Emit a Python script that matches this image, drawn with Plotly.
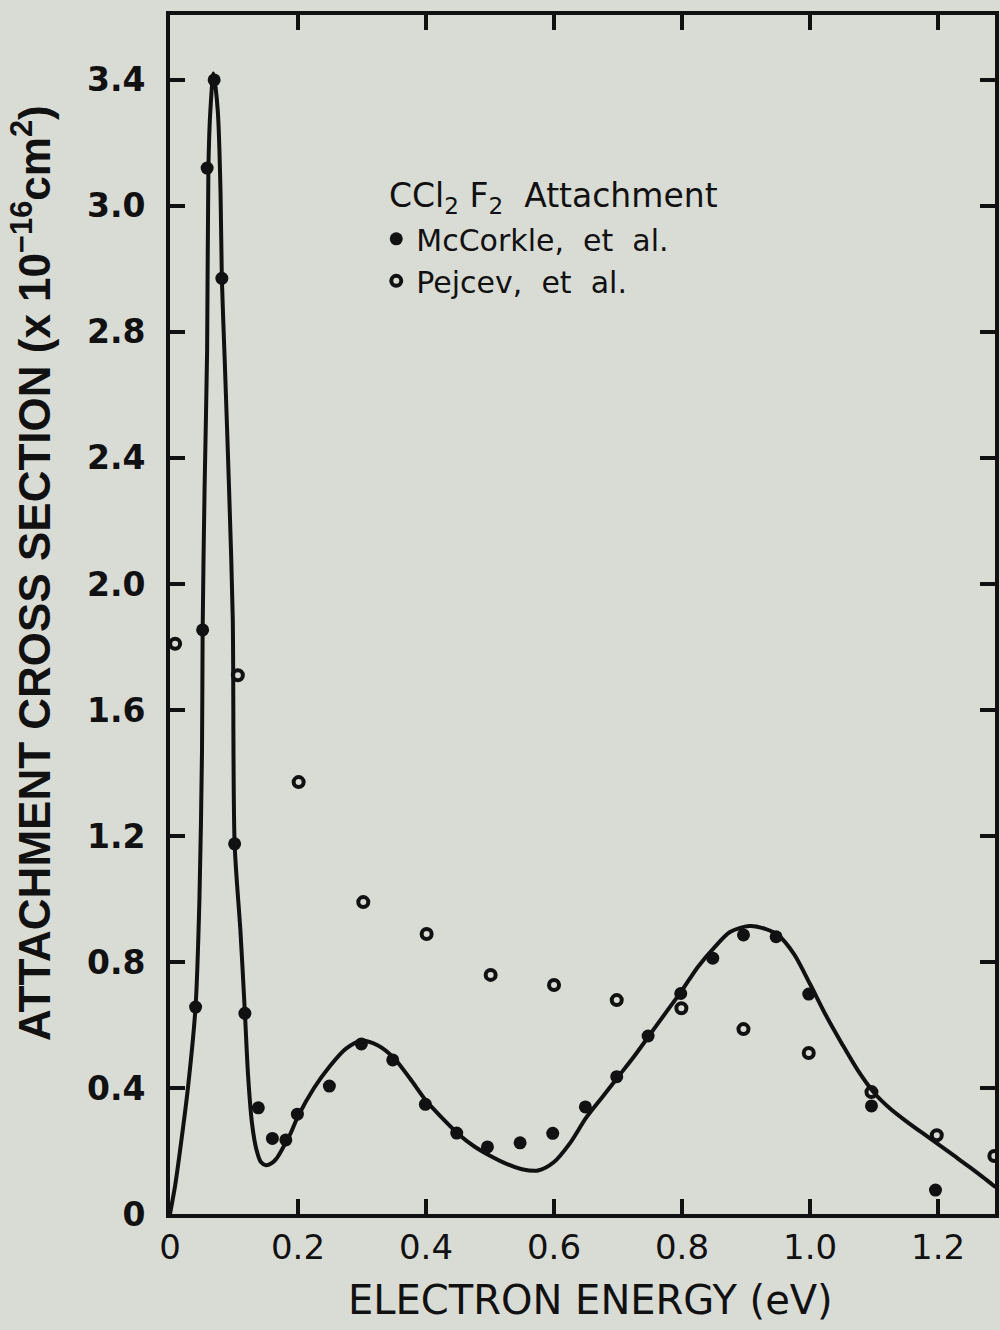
import plotly.graph_objects as go

# Fitted attachment cross-section curve (electron energy in eV, cross section)
curve_energy = [0.000, 0.008, 0.0156, 0.028, 0.040, 0.046, 0.050, 0.051, 0.054, 0.058,
                0.060, 0.063, 0.068, 0.0747, 0.079, 0.081, 0.0855, 0.092, 0.098, 0.101,
                0.110, 0.117, 0.122, 0.128, 0.135, 0.142, 0.150, 0.158, 0.166, 0.175,
                0.187, 0.200, 0.225, 0.250, 0.275, 0.300, 0.325, 0.350, 0.375, 0.400,
                0.425, 0.450, 0.475, 0.500, 0.525, 0.550, 0.575, 0.600, 0.625, 0.650,
                0.675, 0.700, 0.725, 0.750, 0.775, 0.800, 0.825, 0.850, 0.875, 0.905,
                0.930, 0.950, 0.975, 1.000, 1.025, 1.050, 1.075, 1.100, 1.125, 1.150,
                1.175, 1.200, 1.225, 1.250, 1.270, 1.290]
curve_sigma = [0.00, 0.09, 0.20, 0.40, 0.66, 1.00, 1.47, 1.85, 2.30, 2.74,
               3.32, 3.50, 3.62, 3.50, 3.24, 2.97, 2.71, 2.32, 1.895, 1.175,
               0.90, 0.64, 0.44, 0.29, 0.205, 0.165, 0.155, 0.160, 0.175, 0.205,
               0.25, 0.31, 0.40, 0.47, 0.525, 0.550, 0.535, 0.495, 0.43, 0.36,
               0.305, 0.255, 0.215, 0.185, 0.160, 0.142, 0.138, 0.165, 0.225, 0.305,
               0.370, 0.435, 0.500, 0.570, 0.640, 0.710, 0.785, 0.845, 0.895, 0.914,
               0.905, 0.885, 0.825, 0.730, 0.630, 0.540, 0.455, 0.385, 0.335, 0.295,
               0.258, 0.222, 0.185, 0.148, 0.117, 0.085]

# McCorkle et al. (filled points)
mccorkle_energy = [0.040, 0.051, 0.058, 0.069, 0.081, 0.101, 0.117, 0.138, 0.160, 0.181,
                   0.199, 0.249, 0.299, 0.348, 0.399, 0.448, 0.496, 0.547, 0.598, 0.649,
                   0.698, 0.747, 0.798, 0.848, 0.896, 0.947, 0.998, 1.096, 1.196]
mccorkle_sigma = [0.657, 1.854, 3.32, 3.60, 2.97, 1.175, 0.637, 0.337, 0.240, 0.235,
                  0.317, 0.406, 0.540, 0.489, 0.348, 0.257, 0.213, 0.226, 0.256, 0.340,
                  0.436, 0.565, 0.700, 0.812, 0.886, 0.880, 0.698, 0.343, 0.076]

# Pejcev et al. (open points)
pejcev_energy = [0.008, 0.106, 0.201, 0.302, 0.401, 0.501, 0.600, 0.698, 0.799, 0.896,
                 0.998, 1.096, 1.198, 1.288]
pejcev_sigma = [1.81, 1.71, 1.371, 0.990, 0.889, 0.759, 0.727, 0.679, 0.653, 0.587,
                0.511, 0.387, 0.250, 0.184]

x_tick_vals = [0, 0.2, 0.4, 0.6, 0.8, 1.0, 1.2]
x_tick_text = ["0", "0.2", "0.4", "0.6", "0.8", "1.0", "1.2"]
y_tick_vals = [0, 0.4, 0.8, 1.2, 1.6, 2.0, 2.4, 2.8, 3.2, 3.6]
y_tick_text = ["0", "0.4", "0.8", "1.2", "1.6", "2.0", "2.4", "2.8", "3.0", "3.4"]

BG = "#d9dbd5"
INK = "#111111"

fig = go.Figure()

fig.add_trace(go.Scatter(
    x=curve_energy, y=curve_sigma, mode="lines",
    line=dict(color=INK, width=4, shape="spline", smoothing=0.8),
    showlegend=False, hoverinfo="skip",
))

fig.add_trace(go.Scatter(
    x=mccorkle_energy, y=mccorkle_sigma, mode="markers",
    name="McCorkle,  et  al.",
    marker=dict(symbol="circle", size=13, color=INK),
))

fig.add_trace(go.Scatter(
    x=pejcev_energy, y=pejcev_sigma, mode="markers",
    name="Pejcev,  et  al.",
    marker=dict(symbol="circle-open", size=10, color=INK, line=dict(width=4, color=INK)),
))

axis_common = dict(
    showline=True, linecolor=INK, linewidth=4, mirror="ticks",
    ticks="inside", ticklen=15, tickwidth=4, tickcolor=INK,
    showgrid=False, zeroline=False,
)

fig.update_xaxes(
    range=[0, 1.289], tickvals=x_tick_vals, ticktext=x_tick_text,
    tickfont=dict(family="DejaVu Sans", size=34, color=INK),
    ticklabelstandoff=0,
    **axis_common,
)
fig.update_yaxes(
    range=[0, 3.806], tickvals=y_tick_vals, ticktext=y_tick_text,
    tickfont=dict(family="DejaVu Sans", size=33, color=INK, weight="bold"),
    ticklabelstandoff=14,
    **axis_common,
)

fig.update_layout(
    width=1000, height=1330,
    margin=dict(l=170, r=1, t=15, b=116),
    paper_bgcolor=BG, plot_bgcolor=BG,
    font=dict(family="DejaVu Sans", color=INK),
    legend=dict(
        x=0.250, y=0.835, xanchor="left", yanchor="top",
        bgcolor="rgba(0,0,0,0)", borderwidth=0,
        font=dict(family="DejaVu Sans", size=30, color=INK),
        itemwidth=30, tracegroupgap=0,
    ),
    annotations=[
        dict(
            text="CCl<sub>2</sub> F<sub>2</sub>  Attachment",
            xref="paper", yref="paper", x=0.263, y=0.848,
            xanchor="left", yanchor="middle", showarrow=False,
            font=dict(family="DejaVu Sans", size=33, color=INK),
        ),
        dict(
            text="ATTACHMENT CROSS SECTION (x 10<sup>−16</sup>cm<sup>2</sup>)",
            xref="paper", yref="paper", x=-0.168, y=0.535,
            xanchor="center", yanchor="middle", textangle=-90, showarrow=False,
            font=dict(family="Liberation Sans", size=44, color=INK, weight="bold"),
        ),
        dict(
            text="ELECTRON ENERGY (eV)",
            xref="paper", yref="paper", x=0.51, y=-0.0717,
            xanchor="center", yanchor="middle", showarrow=False,
            font=dict(family="DejaVu Sans", size=40, color=INK),
        ),
    ],
)

fig.write_html("out.html")
